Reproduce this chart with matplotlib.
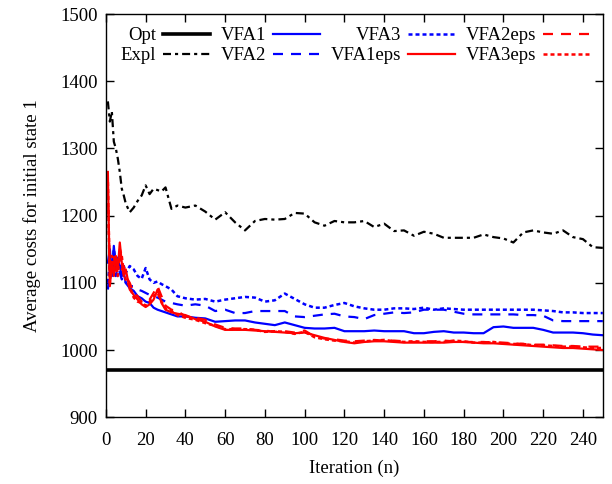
import matplotlib
matplotlib.use("Agg")
import matplotlib.pyplot as plt

# iteration grid shared by every series
iters = ([1, 2, 3, 4, 5, 6, 7, 8, 9, 10]
         + [12, 14, 16, 18, 20, 22, 24, 26, 28, 30]
         + [33, 36, 40]
         + list(range(45, 251, 5)))

opt_cost = 970

expl = ([1370, 1340, 1355, 1310, 1300, 1285, 1265, 1240, 1230, 1218]
        + [1205, 1212, 1222, 1230, 1245, 1232, 1240, 1238, 1236, 1242]
        + [1210, 1215, 1212]
        + [1215, 1206, 1194, 1205, 1190, 1178, 1192, 1195, 1194, 1195]
        + [1204, 1203, 1190, 1185, 1192, 1190, 1190, 1192, 1183, 1188]
        + [1177, 1178, 1170, 1176, 1173, 1167, 1167, 1167, 1167, 1172]
        + [1168, 1166, 1160, 1175, 1178, 1175, 1173, 1178, 1168, 1165]
        + [1153, 1152])

vfa1 = ([1130, 1150, 1110, 1155, 1120, 1135, 1125, 1110, 1115, 1100]
        + [1092, 1088, 1080, 1077, 1072, 1070, 1063, 1060, 1058, 1056]
        + [1053, 1050, 1050]
        + [1048, 1047, 1042, 1043, 1044, 1044, 1041, 1039, 1037, 1041]
        + [1037, 1033, 1032, 1032, 1033, 1028, 1028, 1028, 1029, 1028]
        + [1028, 1028, 1025, 1025, 1027, 1028, 1026, 1026, 1025, 1025]
        + [1034, 1035, 1033, 1033, 1033, 1030, 1026, 1026, 1026, 1025]
        + [1023, 1022])

vfa2 = ([1090, 1120, 1105, 1140, 1110, 1125, 1115, 1105, 1110, 1100]
        + [1095, 1095, 1090, 1088, 1085, 1082, 1080, 1078, 1075, 1072]
        + [1070, 1068, 1066]
        + [1068, 1066, 1058, 1060, 1055, 1055, 1058, 1058, 1058, 1058]
        + [1050, 1049, 1051, 1053, 1054, 1050, 1049, 1046, 1052, 1054]
        + [1056, 1055, 1056, 1060, 1060, 1060, 1057, 1054, 1053, 1053]
        + [1053, 1053, 1053, 1052, 1052, 1051, 1044, 1043, 1043, 1043]
        + [1043, 1043])

vfa3 = ([1100, 1130, 1115, 1150, 1130, 1140, 1130, 1120, 1125, 1115]
        + [1125, 1120, 1110, 1106, 1122, 1105, 1100, 1102, 1098, 1095]
        + [1090, 1080, 1077]
        + [1075, 1076, 1072, 1075, 1077, 1079, 1078, 1072, 1074, 1084]
        + [1076, 1068, 1063, 1063, 1067, 1070, 1065, 1062, 1060, 1060]
        + [1062, 1062, 1061, 1063, 1060, 1062, 1061, 1060, 1060, 1060]
        + [1060, 1060, 1060, 1060, 1060, 1059, 1058, 1056, 1056, 1055]
        + [1055, 1055])

vfa1eps = ([1265, 1095, 1130, 1110, 1140, 1120, 1160, 1130, 1110, 1120]
           + [1090, 1082, 1075, 1068, 1064, 1068, 1075, 1090, 1070, 1060]
           + [1056, 1054, 1052]
           + [1046, 1042, 1035, 1030, 1030, 1030, 1029, 1028, 1027, 1026]
           + [1025, 1026, 1022, 1018, 1015, 1012, 1010, 1012, 1013, 1013]
           + [1012, 1011, 1011, 1011, 1011, 1011, 1012, 1012, 1011, 1010]
           + [1010, 1009, 1008, 1007, 1006, 1005, 1004, 1003, 1003, 1002]
           + [1001, 1000])

vfa2eps = ([1240, 1110, 1120, 1140, 1115, 1135, 1145, 1120, 1125, 1110]
           + [1100, 1085, 1080, 1072, 1070, 1075, 1085, 1095, 1080, 1066]
           + [1060, 1058, 1050]
           + [1048, 1045, 1038, 1033, 1032, 1032, 1030, 1029, 1027, 1028]
           + [1026, 1029, 1020, 1017, 1016, 1014, 1013, 1014, 1015, 1014]
           + [1014, 1013, 1012, 1013, 1013, 1014, 1013, 1012, 1012, 1012]
           + [1011, 1011, 1010, 1009, 1008, 1008, 1007, 1006, 1006, 1005]
           + [1005, 1005])

vfa3eps = ([1250, 1100, 1140, 1120, 1130, 1110, 1150, 1140, 1115, 1105]
           + [1095, 1078, 1072, 1070, 1066, 1072, 1080, 1085, 1072, 1062]
           + [1058, 1052, 1048]
           + [1045, 1040, 1036, 1031, 1031, 1031, 1030, 1027, 1028, 1027]
           + [1024, 1027, 1019, 1016, 1014, 1013, 1011, 1013, 1014, 1015]
           + [1013, 1012, 1013, 1012, 1012, 1012, 1014, 1013, 1011, 1011]
           + [1012, 1010, 1009, 1009, 1007, 1007, 1006, 1005, 1005, 1004]
           + [1003, 1003])

plt.rcParams['font.family'] = ['Liberation Serif', 'DejaVu Serif']
plt.rcParams['font.size'] = 13.5

fig = plt.figure(figsize=(6.12, 4.84), dpi=100)
ax = fig.add_axes([0.173, 0.138, 0.812, 0.833])

dotted = (0, (1.6, 1.2))
dashed = (0, (4.5, 3.6))
dashdot = (0, (3.6, 1.8, 1.4, 1.8))

ax.axhline(opt_cost, color='black', lw=2.6, label='Opt')
ax.plot(iters, expl, color='black', lw=1.6, linestyle=dashdot, label='Expl')
ax.plot(iters, vfa1, color='#0000ff', lw=1.6, label='VFA1')
ax.plot(iters, vfa2, color='#0000ff', lw=1.6, linestyle=dashed, label='VFA2')
ax.plot(iters, vfa3, color='#0000ff', lw=1.8, linestyle=dotted, label='VFA3')
ax.plot(iters, vfa1eps, color='#ff0000', lw=1.6, label='VFA1eps')
ax.plot(iters, vfa2eps, color='#ff0000', lw=1.6, linestyle=dashed, label='VFA2eps')
ax.plot(iters, vfa3eps, color='#ff0000', lw=1.8, linestyle=dotted, label='VFA3eps')

ax.set_xlim(0, 250)
ax.set_ylim(900, 1500)
ax.set_xticks(range(0, 241, 20))
ax.set_yticks(range(900, 1501, 100))
ax.tick_params(direction='in', top=True, right=True, length=6, width=1)
ax.tick_params(axis='x', pad=11)
ax.tick_params(axis='y', pad=6)
for s in ax.spines.values():
    s.set_linewidth(1.0)

ax.set_xlabel('Iteration (n)', labelpad=7)
ax.set_ylabel('Average costs for initial state 1', labelpad=14)

ax.legend(ncol=4, loc='upper right', frameon=False, markerfirst=False,
          handlelength=2.5, handletextpad=0.35, columnspacing=0.6,
          labelspacing=0.15, borderaxespad=0.3, fontsize=13.5)

fig.savefig('out.png', dpi=100)
